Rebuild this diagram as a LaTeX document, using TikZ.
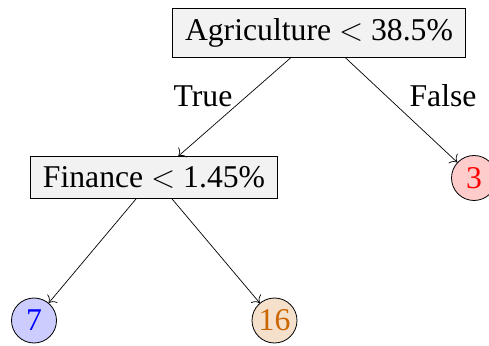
\RequirePackage{fix-cm}
\documentclass[tikz,border=0pt]{standalone}
\usepackage{fontspec}
\setmainfont{Liberation Serif}
\usetikzlibrary{arrows.meta}
\definecolor{leafbrown}{RGB}{204,102,0}
\tikzset{
  every node/.style={font=\fontsize{31.7}{38}\selectfont},
  split/.style={draw, line width=0.8pt, fill=black!5, inner xsep=12.5pt, inner ysep=10pt},
  leaf/.style={draw, circle, line width=0.8pt, minimum size=45pt, inner sep=0pt},
  edge/.style={line width=0.7pt, -{To[length=6pt,width=13pt]}},
}
\begin{document}
\begin{tikzpicture}[x=1pt,y=1pt]
  \useasboundingbox (0,0) rectangle (489,345);
  \node[split] (agri) at (319,312) {Agriculture $<$ 38.5\%};
  \node[split] (fin) at (154,167.5) {Finance $<$ 1.45\%};
  \node[leaf, fill=red!20, text=red] (l3) at (474,167) {3};
  \node[leaf, fill=blue!20, text=blue] (l7) at (34,24.5) {7};
  \node[leaf, fill=leafbrown!20, text=leafbrown] (l16) at (274.5,24.5) {16};
  \draw[edge] (agri) -- (fin);
  \draw[edge] (agri) -- (l3);
  \draw[edge] (fin) -- (l7);
  \draw[edge] (fin) -- (l16);
  \node (t) at (203,249) {True};
  \node (f) at (443,249) {False};
\end{tikzpicture}
\end{document}
